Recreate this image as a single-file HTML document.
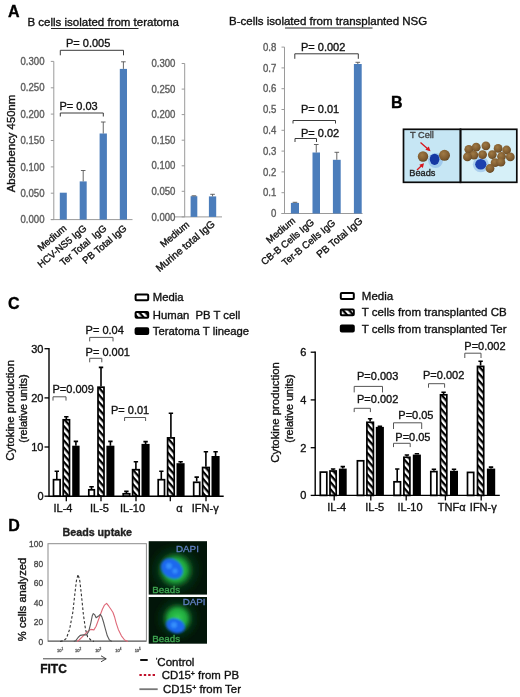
<!DOCTYPE html>
<html><head><meta charset="utf-8"><title>Figure</title>
<style>
html,body{margin:0;padding:0;background:#fff;}
svg{display:block;}
text{font-family:"Liberation Sans", Arial, sans-serif;stroke-width:0.35px;}
</style></head><body>
<svg width="520" height="697" viewBox="0 0 520 697">
<defs>
<pattern id="hatch" patternUnits="userSpaceOnUse" width="4.7" height="4.7" patternTransform="rotate(49)">
<rect width="4.7" height="4.7" fill="#fff"/><rect width="4.7" height="2.3" fill="#000"/>
</pattern>
<radialGradient id="bead" cx="40%" cy="35%" r="70%">
<stop offset="0" stop-color="#a07a45"/><stop offset="0.7" stop-color="#7d5a2e"/><stop offset="1" stop-color="#5e4323"/>
</radialGradient>
<radialGradient id="bcell" cx="50%" cy="50%" r="50%">
<stop offset="0" stop-color="#0a2f9a"/><stop offset="0.6" stop-color="#1d45ad"/><stop offset="1" stop-color="#6f9fdc" stop-opacity="0.3"/>
</radialGradient>
<radialGradient id="gglow" cx="50%" cy="50%" r="50%">
<stop offset="0" stop-color="#35d055"/><stop offset="0.55" stop-color="#1fa83c"/><stop offset="0.8" stop-color="#0d5a22" stop-opacity="0.8"/><stop offset="1" stop-color="#02200c" stop-opacity="0"/>
</radialGradient>
<radialGradient id="bnuc" cx="50%" cy="50%" r="50%">
<stop offset="0" stop-color="#2a8cff"/><stop offset="0.7" stop-color="#1a6af0"/><stop offset="1" stop-color="#1a6af0" stop-opacity="0"/>
</radialGradient>
<radialGradient id="ghaze" cx="50%" cy="50%" r="50%">
<stop offset="0" stop-color="#0f5a26" stop-opacity="0.8"/><stop offset="0.6" stop-color="#0c4a1f" stop-opacity="0.5"/><stop offset="1" stop-color="#06280f" stop-opacity="0"/>
</radialGradient>
<filter id="blur1"><feGaussianBlur stdDeviation="0.6"/></filter>
<filter id="blur2"><feGaussianBlur stdDeviation="1.2"/></filter>
</defs>
<rect width="520" height="697" fill="#fff"/>

<text x="8" y="17" font-size="16" font-weight="bold" fill="#000" stroke="#000">A</text>
<text x="391" y="107.5" font-size="16" font-weight="bold" fill="#000" stroke="#000">B</text>
<text x="8" y="309" font-size="16" font-weight="bold" fill="#000" stroke="#000">C</text>
<text x="8.3" y="531" font-size="16" font-weight="bold" fill="#000" stroke="#000">D</text>
<text x="27.5" y="25.5" font-size="11.5" fill="#111" stroke="#111">B cells isolated from teratoma</text>
<line x1="51" y1="28.5" x2="138.5" y2="28.5" stroke="#222" stroke-width="1"/>
<text x="229" y="24.5" font-size="11.5" fill="#111" stroke="#111">B-cells isolated from transplanted NSG</text>
<line x1="285" y1="28" x2="372.5" y2="28" stroke="#222" stroke-width="1"/>
<line x1="53.8" y1="61.4" x2="53.8" y2="219.6" stroke="#9a9a9a" stroke-width="1"/>
<line x1="50.8" y1="219.6" x2="132.5" y2="219.6" stroke="#9a9a9a" stroke-width="1"/>
<line x1="50.8" y1="219.6" x2="53.8" y2="219.6" stroke="#9a9a9a" stroke-width="1"/>
<text transform="translate(44.5,223.2) scale(1,1.08)" font-size="9.6" fill="#5e5e5e" text-anchor="end" stroke="#5e5e5e">0.000</text>
<line x1="50.8" y1="193.2" x2="53.8" y2="193.2" stroke="#9a9a9a" stroke-width="1"/>
<text transform="translate(44.5,196.8) scale(1,1.08)" font-size="9.6" fill="#5e5e5e" text-anchor="end" stroke="#5e5e5e">0.050</text>
<line x1="50.8" y1="166.9" x2="53.8" y2="166.9" stroke="#9a9a9a" stroke-width="1"/>
<text transform="translate(44.5,170.5) scale(1,1.08)" font-size="9.6" fill="#5e5e5e" text-anchor="end" stroke="#5e5e5e">0.100</text>
<line x1="50.8" y1="140.5" x2="53.8" y2="140.5" stroke="#9a9a9a" stroke-width="1"/>
<text transform="translate(44.5,144.1) scale(1,1.08)" font-size="9.6" fill="#5e5e5e" text-anchor="end" stroke="#5e5e5e">0.150</text>
<line x1="50.8" y1="114.1" x2="53.8" y2="114.1" stroke="#9a9a9a" stroke-width="1"/>
<text transform="translate(44.5,117.7) scale(1,1.08)" font-size="9.6" fill="#5e5e5e" text-anchor="end" stroke="#5e5e5e">0.200</text>
<line x1="50.8" y1="87.8" x2="53.8" y2="87.8" stroke="#9a9a9a" stroke-width="1"/>
<text transform="translate(44.5,91.4) scale(1,1.08)" font-size="9.6" fill="#5e5e5e" text-anchor="end" stroke="#5e5e5e">0.250</text>
<line x1="50.8" y1="61.4" x2="53.8" y2="61.4" stroke="#9a9a9a" stroke-width="1"/>
<text transform="translate(44.5,65.0) scale(1,1.08)" font-size="9.6" fill="#5e5e5e" text-anchor="end" stroke="#5e5e5e">0.300</text>
<rect x="59.8" y="192.7" width="7.0" height="26.9" fill="#4b7dbb"/>
<text transform="translate(67.3,229.4) rotate(-40)" font-size="9.7" fill="#111" text-anchor="end" xml:space="preserve" stroke="#111">Medium</text>
<rect x="79.7" y="181.4" width="7.0" height="38.2" fill="#4b7dbb"/>
<line x1="83.2" y1="181.4" x2="83.2" y2="170.5" stroke="#555" stroke-width="0.9"/>
<line x1="80.9" y1="170.5" x2="85.5" y2="170.5" stroke="#555" stroke-width="0.9"/>
<text transform="translate(87.2,229.4) rotate(-40)" font-size="9.7" fill="#111" text-anchor="end" xml:space="preserve" stroke="#111">HCV-NS5 IgG</text>
<rect x="99.6" y="133.5" width="7.3" height="86.1" fill="#4b7dbb"/>
<line x1="103.25" y1="133.5" x2="103.25" y2="122" stroke="#555" stroke-width="0.9"/>
<line x1="100.95" y1="122" x2="105.55" y2="122" stroke="#555" stroke-width="0.9"/>
<text transform="translate(107.2,229.4) rotate(-40)" font-size="9.7" fill="#111" text-anchor="end" xml:space="preserve" stroke="#111">Ter Total  IgG</text>
<rect x="119.8" y="68.9" width="7.2" height="150.7" fill="#4b7dbb"/>
<line x1="123.4" y1="68.9" x2="123.4" y2="61.8" stroke="#555" stroke-width="0.9"/>
<line x1="121.10000000000001" y1="61.8" x2="125.7" y2="61.8" stroke="#555" stroke-width="0.9"/>
<text transform="translate(127.4,229.4) rotate(-40)" font-size="9.7" fill="#111" text-anchor="end" xml:space="preserve" stroke="#111">PB Total IgG</text>
<text transform="translate(14.6,143.5) rotate(-90)" font-size="11.3" fill="#111" text-anchor="middle" stroke="#111">Absorbency 450nm</text>
<line x1="184.7" y1="63.5" x2="184.7" y2="216.9" stroke="#9a9a9a" stroke-width="1"/>
<line x1="174.4" y1="216.9" x2="222" y2="216.9" stroke="#9a9a9a" stroke-width="1"/>
<line x1="181.7" y1="216.9" x2="184.7" y2="216.9" stroke="#9a9a9a" stroke-width="1"/>
<text transform="translate(175.4,220.5) scale(1,1.08)" font-size="9.6" fill="#5e5e5e" text-anchor="end" stroke="#5e5e5e">0.000</text>
<line x1="181.7" y1="191.3" x2="184.7" y2="191.3" stroke="#9a9a9a" stroke-width="1"/>
<text transform="translate(175.4,194.9) scale(1,1.08)" font-size="9.6" fill="#5e5e5e" text-anchor="end" stroke="#5e5e5e">0.050</text>
<line x1="181.7" y1="165.8" x2="184.7" y2="165.8" stroke="#9a9a9a" stroke-width="1"/>
<text transform="translate(175.4,169.4) scale(1,1.08)" font-size="9.6" fill="#5e5e5e" text-anchor="end" stroke="#5e5e5e">0.100</text>
<line x1="181.7" y1="140.2" x2="184.7" y2="140.2" stroke="#9a9a9a" stroke-width="1"/>
<text transform="translate(175.4,143.8) scale(1,1.08)" font-size="9.6" fill="#5e5e5e" text-anchor="end" stroke="#5e5e5e">0.150</text>
<line x1="181.7" y1="114.6" x2="184.7" y2="114.6" stroke="#9a9a9a" stroke-width="1"/>
<text transform="translate(175.4,118.2) scale(1,1.08)" font-size="9.6" fill="#5e5e5e" text-anchor="end" stroke="#5e5e5e">0.200</text>
<line x1="181.7" y1="89.1" x2="184.7" y2="89.1" stroke="#9a9a9a" stroke-width="1"/>
<text transform="translate(175.4,92.7) scale(1,1.08)" font-size="9.6" fill="#5e5e5e" text-anchor="end" stroke="#5e5e5e">0.250</text>
<line x1="181.7" y1="63.5" x2="184.7" y2="63.5" stroke="#9a9a9a" stroke-width="1"/>
<text transform="translate(175.4,67.1) scale(1,1.08)" font-size="9.6" fill="#5e5e5e" text-anchor="end" stroke="#5e5e5e">0.300</text>
<rect x="190.6" y="196.2" width="6.7" height="20.7" fill="#4b7dbb"/>
<line x1="193.95" y1="196.2" x2="193.95" y2="195.8" stroke="#555" stroke-width="0.9"/>
<line x1="191.64999999999998" y1="195.8" x2="196.25" y2="195.8" stroke="#555" stroke-width="0.9"/>
<text transform="translate(189.9,225.7) rotate(-40)" font-size="9.7" fill="#111" text-anchor="end" xml:space="preserve" stroke="#111">Medium</text>
<rect x="208.9" y="196.4" width="7.3" height="20.5" fill="#4b7dbb"/>
<line x1="212.55" y1="196.4" x2="212.55" y2="194.3" stroke="#555" stroke-width="0.9"/>
<line x1="210.25" y1="194.3" x2="214.85000000000002" y2="194.3" stroke="#555" stroke-width="0.9"/>
<text transform="translate(215.6,225.2) rotate(-40)" font-size="10.3" fill="#111" text-anchor="end" xml:space="preserve" stroke="#111">Murine total IgG</text>
<line x1="284.5" y1="47.1" x2="284.5" y2="213.5" stroke="#9a9a9a" stroke-width="1"/>
<line x1="281.5" y1="213.5" x2="362.5" y2="213.5" stroke="#9a9a9a" stroke-width="1"/>
<line x1="281.5" y1="213.5" x2="284.5" y2="213.5" stroke="#9a9a9a" stroke-width="1"/>
<text transform="translate(276.3,217.1) scale(1,1.08)" font-size="9.6" fill="#5e5e5e" text-anchor="end" stroke="#5e5e5e">0</text>
<line x1="281.5" y1="192.7" x2="284.5" y2="192.7" stroke="#9a9a9a" stroke-width="1"/>
<text transform="translate(276.3,196.3) scale(1,1.08)" font-size="9.6" fill="#5e5e5e" text-anchor="end" stroke="#5e5e5e">0.1</text>
<line x1="281.5" y1="171.9" x2="284.5" y2="171.9" stroke="#9a9a9a" stroke-width="1"/>
<text transform="translate(276.3,175.5) scale(1,1.08)" font-size="9.6" fill="#5e5e5e" text-anchor="end" stroke="#5e5e5e">0.2</text>
<line x1="281.5" y1="151.1" x2="284.5" y2="151.1" stroke="#9a9a9a" stroke-width="1"/>
<text transform="translate(276.3,154.7) scale(1,1.08)" font-size="9.6" fill="#5e5e5e" text-anchor="end" stroke="#5e5e5e">0.3</text>
<line x1="281.5" y1="130.3" x2="284.5" y2="130.3" stroke="#9a9a9a" stroke-width="1"/>
<text transform="translate(276.3,133.9) scale(1,1.08)" font-size="9.6" fill="#5e5e5e" text-anchor="end" stroke="#5e5e5e">0.4</text>
<line x1="281.5" y1="109.5" x2="284.5" y2="109.5" stroke="#9a9a9a" stroke-width="1"/>
<text transform="translate(276.3,113.1) scale(1,1.08)" font-size="9.6" fill="#5e5e5e" text-anchor="end" stroke="#5e5e5e">0.5</text>
<line x1="281.5" y1="88.7" x2="284.5" y2="88.7" stroke="#9a9a9a" stroke-width="1"/>
<text transform="translate(276.3,92.3) scale(1,1.08)" font-size="9.6" fill="#5e5e5e" text-anchor="end" stroke="#5e5e5e">0.6</text>
<line x1="281.5" y1="67.9" x2="284.5" y2="67.9" stroke="#9a9a9a" stroke-width="1"/>
<text transform="translate(276.3,71.5) scale(1,1.08)" font-size="9.6" fill="#5e5e5e" text-anchor="end" stroke="#5e5e5e">0.7</text>
<line x1="281.5" y1="47.1" x2="284.5" y2="47.1" stroke="#9a9a9a" stroke-width="1"/>
<text transform="translate(276.3,50.7) scale(1,1.08)" font-size="9.6" fill="#5e5e5e" text-anchor="end" stroke="#5e5e5e">0.8</text>
<rect x="290.9" y="202.9" width="8.1" height="10.6" fill="#4b7dbb"/>
<line x1="294.95" y1="202.9" x2="294.95" y2="202.3" stroke="#555" stroke-width="0.9"/>
<line x1="292.65" y1="202.3" x2="297.25" y2="202.3" stroke="#555" stroke-width="0.9"/>
<text transform="translate(295.9,221.8) rotate(-40)" font-size="9.7" fill="#111" text-anchor="end" xml:space="preserve" stroke="#111">Medium</text>
<rect x="312.5" y="152.5" width="7.5" height="61.0" fill="#4b7dbb"/>
<line x1="316.25" y1="152.5" x2="316.25" y2="144.5" stroke="#555" stroke-width="0.9"/>
<line x1="313.95" y1="144.5" x2="318.55" y2="144.5" stroke="#555" stroke-width="0.9"/>
<text transform="translate(314.8,223.3) rotate(-40)" font-size="9.7" fill="#111" text-anchor="end" xml:space="preserve" stroke="#111">CB-B Cells IgG</text>
<rect x="332.9" y="159.8" width="7.8" height="53.7" fill="#4b7dbb"/>
<line x1="336.79999999999995" y1="159.8" x2="336.79999999999995" y2="152.3" stroke="#555" stroke-width="0.9"/>
<line x1="334.49999999999994" y1="152.3" x2="339.09999999999997" y2="152.3" stroke="#555" stroke-width="0.9"/>
<text transform="translate(336.2,223.8) rotate(-40)" font-size="9.8" fill="#111" text-anchor="end" xml:space="preserve" stroke="#111">Ter-B Cells IgG</text>
<rect x="353.9" y="64" width="7.8" height="149.5" fill="#4b7dbb"/>
<line x1="357.79999999999995" y1="64" x2="357.79999999999995" y2="62.3" stroke="#555" stroke-width="0.9"/>
<line x1="355.49999999999994" y1="62.3" x2="360.09999999999997" y2="62.3" stroke="#555" stroke-width="0.9"/>
<text transform="translate(363.3,222.0) rotate(-40)" font-size="10.1" fill="#111" text-anchor="end" xml:space="preserve" stroke="#111">PB Total IgG</text>
<text x="66" y="47" font-size="11" fill="#111" xml:space="preserve" stroke="#111">P= 0.005</text>
<path d="M60.3 55.3 V50.3 H123.5 V55.3" fill="none" stroke="#3a3a3a" stroke-width="1"/>
<text x="59.5" y="110" font-size="11" fill="#111" xml:space="preserve" stroke="#111">P= 0.03</text>
<path d="M60.3 116.5 V113 H103.3 V116.5" fill="none" stroke="#3a3a3a" stroke-width="1"/>
<text x="301" y="50.5" font-size="11" fill="#111" xml:space="preserve" stroke="#111">P= 0.002</text>
<path d="M294.8 58.8 V53.8 H358.3 V58.8" fill="none" stroke="#3a3a3a" stroke-width="1"/>
<text x="301" y="113" font-size="11" fill="#111" xml:space="preserve" stroke="#111">P= 0.01</text>
<path d="M293 123.5 V120.5 H335.5 V123.5" fill="none" stroke="#3a3a3a" stroke-width="1"/>
<text x="301" y="137" font-size="11" fill="#111" xml:space="preserve" stroke="#111">P= 0.02</text>
<path d="M295 142.0 V138.5 H316.5 V142.0" fill="none" stroke="#3a3a3a" stroke-width="1"/>
<rect x="403.5" y="129.3" width="57" height="53" fill="#c6e6f4"/>
<rect x="460.5" y="129.3" width="56.3" height="53" fill="#d6f0f8"/>
<g filter="url(#blur1)">
<circle cx="435.5" cy="160.5" r="7.5" fill="#7fb0e6" opacity="0.55"/>
<circle cx="423" cy="156.5" r="5.2" fill="url(#bead)"/>
<circle cx="444.5" cy="155.3" r="5.5" fill="url(#bead)"/>
<ellipse cx="434.6" cy="159.3" rx="4.8" ry="5.6" fill="#1637a3"/>
</g>
<text x="410" y="138.3" font-size="9.2" fill="#444" stroke="#444">T Cell</text>
<text x="409.3" y="176.3" font-size="9.2" fill="#222" stroke="#222">Beads</text>
<path d="M420.5 142.5 L429 150" stroke="#d8141c" stroke-width="1.3" fill="none"/><path d="M430.5 151.3 L425.3 149.8 L428.8 146.5 Z" fill="#d8141c"/>
<path d="M417 170 L422 165.3" stroke="#d8141c" stroke-width="1.3" fill="none"/><path d="M424 163.3 L422.8 168 L419.3 164.8 Z" fill="#d8141c"/>
<g filter="url(#blur1)">
<circle cx="480.8" cy="164.3" r="8" fill="#7fb0e6" opacity="0.5"/>
<ellipse cx="480.8" cy="164.3" rx="5.6" ry="5.2" fill="#1a3fae"/>
<circle cx="468.8" cy="149.3" r="4.4" fill="url(#bead)"/>
<circle cx="476.2" cy="147.2" r="4.4" fill="url(#bead)"/>
<circle cx="485.9" cy="145.8" r="4.4" fill="url(#bead)"/>
<circle cx="498.1" cy="148.4" r="4.4" fill="url(#bead)"/>
<circle cx="506.6" cy="150.0" r="4.4" fill="url(#bead)"/>
<circle cx="510.3" cy="156.9" r="4.4" fill="url(#bead)"/>
<circle cx="501.5" cy="156.5" r="4.4" fill="url(#bead)"/>
<circle cx="492.3" cy="154.6" r="4.4" fill="url(#bead)"/>
<circle cx="482.6" cy="154.6" r="4.4" fill="url(#bead)"/>
<circle cx="473.9" cy="155.1" r="4.4" fill="url(#bead)"/>
<circle cx="467.4" cy="156.9" r="4.4" fill="url(#bead)"/>
<circle cx="495.1" cy="162.7" r="4.4" fill="url(#bead)"/>
<circle cx="490.0" cy="168.5" r="4.4" fill="url(#bead)"/>
<circle cx="500.9" cy="162.2" r="4.4" fill="url(#bead)"/>
</g>
<rect x="403.5" y="129.3" width="57" height="53" fill="none" stroke="#0a0a0a" stroke-width="1.7"/>
<rect x="460.5" y="129.3" width="56.3" height="53" fill="none" stroke="#0a0a0a" stroke-width="1.7"/>
<path d="M56.8 478.9 V470.8 M54.6 471.2 H59.0" stroke="#000" stroke-width="1.6" fill="none"/>
<rect x="53.5" y="479.7" width="6.6" height="16.5" fill="#fff" stroke="#000" stroke-width="1.7"/>
<path d="M66.3 419 V416.4 M64.1 416.79999999999995 H68.5" stroke="#000" stroke-width="1.6" fill="none"/>
<rect x="63.2" y="419.8" width="6.3" height="76.4" fill="url(#hatch)" stroke="#000" stroke-width="1.7"/>
<path d="M75.9 445.7 V441 M73.7 441.4 H78.1" stroke="#000" stroke-width="1.6" fill="none"/>
<rect x="72.2" y="445.7" width="7.4" height="50.5" fill="#000"/>
<line x1="66.3" y1="496.2" x2="66.3" y2="501.2" stroke="#000" stroke-width="1.3"/>
<text x="63" y="511.5" font-size="11" fill="#111" text-anchor="middle" stroke="#111">IL-4</text>
<path d="M91.5 489 V486.4 M89.3 486.79999999999995 H93.8" stroke="#000" stroke-width="1.6" fill="none"/>
<rect x="88.8" y="489.8" width="5.5" height="6.4" fill="#fff" stroke="#000" stroke-width="1.7"/>
<path d="M101.0 386.4 V367 M98.8 367.4 H103.2" stroke="#000" stroke-width="1.6" fill="none"/>
<rect x="98.0" y="387.2" width="6.0" height="109.0" fill="url(#hatch)" stroke="#000" stroke-width="1.7"/>
<path d="M110.4 445.7 V441 M108.2 441.4 H112.6" stroke="#000" stroke-width="1.6" fill="none"/>
<rect x="106.4" y="445.7" width="8.0" height="50.5" fill="#000"/>
<line x1="101" y1="496.2" x2="101" y2="501.2" stroke="#000" stroke-width="1.3"/>
<text x="99.5" y="511.5" font-size="11" fill="#111" text-anchor="middle" stroke="#111">IL-5</text>
<path d="M126.4 493 V491 M124.2 491.4 H128.6" stroke="#000" stroke-width="1.6" fill="none"/>
<rect x="123.2" y="493.8" width="6.5" height="2.4" fill="#fff" stroke="#000" stroke-width="1.7"/>
<path d="M135.9 468.9 V461.4 M133.7 461.79999999999995 H138.1" stroke="#000" stroke-width="1.6" fill="none"/>
<rect x="132.6" y="469.7" width="6.6" height="26.5" fill="url(#hatch)" stroke="#000" stroke-width="1.7"/>
<path d="M145.6 443.9 V441.2 M143.4 441.59999999999997 H147.8" stroke="#000" stroke-width="1.6" fill="none"/>
<rect x="141.5" y="443.9" width="8.1" height="52.3" fill="#000"/>
<line x1="136" y1="496.2" x2="136" y2="501.2" stroke="#000" stroke-width="1.3"/>
<text x="132.5" y="511.5" font-size="11" fill="#111" text-anchor="middle" stroke="#111">IL-10</text>
<path d="M161.3 478.9 V470.8 M159.2 471.2 H163.5" stroke="#000" stroke-width="1.6" fill="none"/>
<rect x="158.2" y="479.7" width="6.3" height="16.5" fill="#fff" stroke="#000" stroke-width="1.7"/>
<path d="M170.9 437.1 V412.9 M168.7 413.29999999999995 H173.1" stroke="#000" stroke-width="1.6" fill="none"/>
<rect x="167.6" y="437.9" width="6.6" height="58.3" fill="url(#hatch)" stroke="#000" stroke-width="1.7"/>
<path d="M180.6 463.2 V461.4 M178.4 461.79999999999995 H182.8" stroke="#000" stroke-width="1.6" fill="none"/>
<rect x="176.5" y="463.2" width="8.1" height="33.0" fill="#000"/>
<line x1="170.3" y1="496.2" x2="170.3" y2="501.2" stroke="#000" stroke-width="1.3"/>
<text x="179.5" y="511.5" font-size="11" fill="#111" text-anchor="middle" stroke="#111">α</text>
<path d="M196.7 481.5 V476.7 M194.5 477.09999999999997 H198.9" stroke="#000" stroke-width="1.6" fill="none"/>
<rect x="193.7" y="482.3" width="6.0" height="13.9" fill="#fff" stroke="#000" stroke-width="1.7"/>
<path d="M205.9 466.7 V451.4 M203.7 451.79999999999995 H208.1" stroke="#000" stroke-width="1.6" fill="none"/>
<rect x="202.6" y="467.5" width="6.6" height="28.7" fill="url(#hatch)" stroke="#000" stroke-width="1.7"/>
<path d="M215.6 456 V451.4 M213.4 451.79999999999995 H217.8" stroke="#000" stroke-width="1.6" fill="none"/>
<rect x="211.5" y="456" width="8.1" height="40.2" fill="#000"/>
<line x1="206" y1="496.2" x2="206" y2="501.2" stroke="#000" stroke-width="1.3"/>
<text x="205.2" y="511.5" font-size="11" fill="#111" text-anchor="middle" stroke="#111">IFN-γ</text>
<path d="M49 348.09999999999997 V496.2 H223.7" stroke="#000" stroke-width="1.4" fill="none"/>
<line x1="44.5" y1="496.2" x2="49" y2="496.2" stroke="#000" stroke-width="1.3"/>
<text x="43.5" y="500.2" font-size="11" fill="#111" text-anchor="end" stroke="#111">0</text>
<line x1="44.5" y1="447.0" x2="49" y2="447.0" stroke="#000" stroke-width="1.3"/>
<text x="43.5" y="451.0" font-size="11" fill="#111" text-anchor="end" stroke="#111">10</text>
<line x1="44.5" y1="397.9" x2="49" y2="397.9" stroke="#000" stroke-width="1.3"/>
<text x="43.5" y="401.9" font-size="11" fill="#111" text-anchor="end" stroke="#111">20</text>
<line x1="44.5" y1="348.7" x2="49" y2="348.7" stroke="#000" stroke-width="1.3"/>
<text x="43.5" y="352.7" font-size="11" fill="#111" text-anchor="end" stroke="#111">30</text>
<text transform="translate(13.6,410.3) rotate(-90)" font-size="11.4" fill="#111" text-anchor="middle" stroke="#111">Cytokine production</text>
<text transform="translate(27.2,408.5) rotate(-90)" font-size="10.9" fill="#111" text-anchor="middle" stroke="#111">(relative units)</text>
<rect x="320.3" y="472.1" width="6.5" height="23.3" fill="#fff" stroke="#000" stroke-width="1.7"/>
<path d="M333.1 470.2 V468.6 M330.9 469.0 H335.3" stroke="#000" stroke-width="1.6" fill="none"/>
<rect x="330.0" y="471.0" width="6.2" height="24.4" fill="url(#hatch)" stroke="#000" stroke-width="1.7"/>
<path d="M342.8 468.6 V466.2 M340.6 466.59999999999997 H345.0" stroke="#000" stroke-width="1.6" fill="none"/>
<rect x="338.9" y="468.6" width="7.8" height="26.8" fill="#000"/>
<line x1="334.2" y1="495.4" x2="334.2" y2="500.4" stroke="#000" stroke-width="1.3"/>
<text x="336.7" y="510.7" font-size="11" fill="#111" text-anchor="middle" stroke="#111">IL-4</text>
<rect x="357.4" y="460.8" width="6.3" height="34.6" fill="#fff" stroke="#000" stroke-width="1.7"/>
<path d="M370.1 421.5 V418.3 M367.9 418.7 H372.3" stroke="#000" stroke-width="1.6" fill="none"/>
<rect x="366.9" y="422.3" width="6.5" height="73.1" fill="url(#hatch)" stroke="#000" stroke-width="1.7"/>
<path d="M379.9 426.9 V425.8 M377.7 426.2 H382.1" stroke="#000" stroke-width="1.6" fill="none"/>
<rect x="375.8" y="426.9" width="8.1" height="68.5" fill="#000"/>
<line x1="370.8" y1="495.4" x2="370.8" y2="500.4" stroke="#000" stroke-width="1.3"/>
<text x="374.7" y="510.7" font-size="11" fill="#111" text-anchor="middle" stroke="#111">IL-5</text>
<path d="M397.2 481 V468.6 M395.1 469.0 H399.4" stroke="#000" stroke-width="1.6" fill="none"/>
<rect x="394.0" y="481.8" width="6.5" height="13.6" fill="#fff" stroke="#000" stroke-width="1.7"/>
<path d="M406.9 456.5 V454.6 M404.7 455.0 H409.1" stroke="#000" stroke-width="1.6" fill="none"/>
<rect x="403.9" y="457.3" width="6.0" height="38.1" fill="url(#hatch)" stroke="#000" stroke-width="1.7"/>
<path d="M416.9 454.6 V453.3 M414.7 453.7 H419.1" stroke="#000" stroke-width="1.6" fill="none"/>
<rect x="412.8" y="454.6" width="8.1" height="40.8" fill="#000"/>
<line x1="406.2" y1="495.4" x2="406.2" y2="500.4" stroke="#000" stroke-width="1.3"/>
<text x="410" y="510.7" font-size="11" fill="#111" text-anchor="middle" stroke="#111">IL-10</text>
<path d="M433.9 470.8 V468.9 M431.7 469.29999999999995 H436.1" stroke="#000" stroke-width="1.6" fill="none"/>
<rect x="430.8" y="471.6" width="6.1" height="23.8" fill="#fff" stroke="#000" stroke-width="1.7"/>
<path d="M443.6 394 V391.9 M441.4 392.29999999999995 H445.8" stroke="#000" stroke-width="1.6" fill="none"/>
<rect x="440.5" y="394.8" width="6.3" height="100.6" fill="url(#hatch)" stroke="#000" stroke-width="1.7"/>
<path d="M454.0 470.8 V468.9 M451.8 469.29999999999995 H456.2" stroke="#000" stroke-width="1.6" fill="none"/>
<rect x="450.0" y="470.8" width="8.0" height="24.6" fill="#000"/>
<line x1="445.4" y1="495.4" x2="445.4" y2="500.4" stroke="#000" stroke-width="1.3"/>
<text x="451.7" y="510.7" font-size="11" fill="#111" text-anchor="middle" stroke="#111">TNFα</text>
<rect x="467.5" y="472.4" width="6.2" height="23.0" fill="#fff" stroke="#000" stroke-width="1.7"/>
<path d="M480.6 365.6 V360.8 M478.4 361.2 H482.8" stroke="#000" stroke-width="1.6" fill="none"/>
<rect x="477.5" y="366.4" width="6.2" height="129.0" fill="url(#hatch)" stroke="#000" stroke-width="1.7"/>
<path d="M491.0 468.6 V466.7 M488.8 467.09999999999997 H493.2" stroke="#000" stroke-width="1.6" fill="none"/>
<rect x="486.9" y="468.6" width="8.3" height="26.8" fill="#000"/>
<line x1="481.2" y1="495.4" x2="481.2" y2="500.4" stroke="#000" stroke-width="1.3"/>
<text x="483.3" y="510.7" font-size="11" fill="#111" text-anchor="middle" stroke="#111">IFN-γ</text>
<path d="M315.2 351.59999999999997 V495.4 H499.8" stroke="#000" stroke-width="1.4" fill="none"/>
<line x1="310.7" y1="495.4" x2="315.2" y2="495.4" stroke="#000" stroke-width="1.3"/>
<text x="306.3" y="499.4" font-size="11" fill="#111" text-anchor="end" stroke="#111">0</text>
<line x1="310.7" y1="447.7" x2="315.2" y2="447.7" stroke="#000" stroke-width="1.3"/>
<text x="306.3" y="451.7" font-size="11" fill="#111" text-anchor="end" stroke="#111">2</text>
<line x1="310.7" y1="399.9" x2="315.2" y2="399.9" stroke="#000" stroke-width="1.3"/>
<text x="306.3" y="403.9" font-size="11" fill="#111" text-anchor="end" stroke="#111">4</text>
<line x1="310.7" y1="352.2" x2="315.2" y2="352.2" stroke="#000" stroke-width="1.3"/>
<text x="306.3" y="356.2" font-size="11" fill="#111" text-anchor="end" stroke="#111">6</text>
<text transform="translate(278.8,412.4) rotate(-90)" font-size="11.4" fill="#111" text-anchor="middle" stroke="#111">Cytokine production</text>
<text transform="translate(292.8,408.5) rotate(-90)" font-size="10.9" fill="#111" text-anchor="middle" stroke="#111">(relative units)</text>
<rect x="135.6" y="294.40000000000003" width="12.6" height="5.8" rx="1" fill="#fff" stroke="#000" stroke-width="2"/>
<text x="152.8" y="301.3" font-size="11.3" fill="#111" xml:space="preserve" stroke="#111">Media</text>
<rect x="135.6" y="311.90000000000003" width="12.6" height="5.8" rx="1" fill="url(#hatch)" stroke="#000" stroke-width="2"/>
<text x="152.8" y="318.8" font-size="11.3" fill="#111" xml:space="preserve" stroke="#111">Human  PB T cell</text>
<rect x="135.6" y="328.3" width="12.6" height="5.8" rx="1" fill="#000" stroke="#000" stroke-width="2"/>
<text x="152.8" y="335.2" font-size="11.3" fill="#111" xml:space="preserve" stroke="#111">Teratoma T lineage</text>
<rect x="340.8" y="293.1" width="13" height="5.8" rx="1" fill="#fff" stroke="#000" stroke-width="2"/>
<text x="361.8" y="300" font-size="11.5" fill="#111" xml:space="preserve" stroke="#111">Media</text>
<rect x="340.8" y="309.40000000000003" width="13" height="5.8" rx="1" fill="url(#hatch)" stroke="#000" stroke-width="2"/>
<text x="361.8" y="316.3" font-size="11.5" fill="#111" xml:space="preserve" stroke="#111">T cells from transplanted CB</text>
<rect x="340.8" y="325.6" width="13" height="5.8" rx="1" fill="#000" stroke="#000" stroke-width="2"/>
<text x="361.8" y="332.5" font-size="11.5" fill="#111" xml:space="preserve" stroke="#111">T cells from transplanted Ter</text>
<text x="52.5" y="393.3" font-size="11" fill="#111" xml:space="preserve" stroke="#111">P=0.009</text>
<path d="M53 400.6 V396.8 H66 V400.6" fill="none" stroke="#555" stroke-width="1"/>
<text x="85.6" y="334" font-size="11" fill="#111" xml:space="preserve" stroke="#111">P= 0.04</text>
<path d="M89.7 341.4 V337.4 H113 V341.4" fill="none" stroke="#555" stroke-width="1"/>
<text x="85.6" y="356.2" font-size="11" fill="#111" xml:space="preserve" stroke="#111">P= 0.001</text>
<path d="M89.7 362.3 V358.3 H101.8 V362.3" fill="none" stroke="#555" stroke-width="1"/>
<text x="111" y="414.3" font-size="11" fill="#111" xml:space="preserve" stroke="#111">P= 0.01</text>
<path d="M124.6 421.0 V417.5 H145.6 V421.0" fill="none" stroke="#555" stroke-width="1"/>
<text x="357" y="380.3" font-size="11" fill="#111" xml:space="preserve" stroke="#111">P=0.003</text>
<path d="M354.2 392.4 V386.4 H382.5 V392.4" fill="none" stroke="#555" stroke-width="1"/>
<text x="357" y="402.7" font-size="11" fill="#111" xml:space="preserve" stroke="#111">P=0.002</text>
<path d="M354.2 412.1 V408.3 H370.4 V412.1" fill="none" stroke="#555" stroke-width="1"/>
<text x="398.3" y="418.5" font-size="11" fill="#111" xml:space="preserve" stroke="#111">P=0.05</text>
<path d="M393.5 429.0 V422.8 H421.7 V429.0" fill="none" stroke="#555" stroke-width="1"/>
<text x="395.3" y="440.5" font-size="11" fill="#111" xml:space="preserve" stroke="#111">P=0.05</text>
<path d="M393.5 447.1 V443.3 H410.2 V447.1" fill="none" stroke="#555" stroke-width="1"/>
<text x="423" y="379" font-size="11" fill="#111" xml:space="preserve" stroke="#111">P=0.002</text>
<path d="M428.5 387.7 V383.7 H444.6 V387.7" fill="none" stroke="#555" stroke-width="1"/>
<text x="464.3" y="350.2" font-size="11" fill="#111" xml:space="preserve" stroke="#111">P=0.002</text>
<path d="M464.8 358.0 V353.2 H481 V358.0" fill="none" stroke="#555" stroke-width="1"/>
<text x="97.3" y="536" font-size="10.7" font-weight="bold" fill="#222" text-anchor="middle" stroke="#222">Beads uptake</text>
<rect x="48" y="543.7" width="98.4" height="97.6" fill="#fff" stroke="#8c8c8c" stroke-width="1"/>
<text transform="translate(43.2,644.8) scale(0.88,1)" font-size="9.6" fill="#4a4a4a" text-anchor="end" stroke="#4a4a4a">0</text>
<text transform="translate(43.2,625.3) scale(0.88,1)" font-size="9.6" fill="#4a4a4a" text-anchor="end" stroke="#4a4a4a">20</text>
<text transform="translate(43.2,605.8) scale(0.88,1)" font-size="9.6" fill="#4a4a4a" text-anchor="end" stroke="#4a4a4a">40</text>
<text transform="translate(43.2,586.2) scale(0.88,1)" font-size="9.6" fill="#4a4a4a" text-anchor="end" stroke="#4a4a4a">60</text>
<text transform="translate(43.2,566.7) scale(0.88,1)" font-size="9.6" fill="#4a4a4a" text-anchor="end" stroke="#4a4a4a">80</text>
<text transform="translate(43.2,547.2) scale(0.88,1)" font-size="9.6" fill="#4a4a4a" text-anchor="end" stroke="#4a4a4a">100</text>
<text transform="translate(25.5,599.5) rotate(-90)" font-size="11.2" fill="#111" text-anchor="middle" stroke="#111">% cells analyzed</text>
<line x1="48" y1="641" x2="146" y2="641" stroke="#444" stroke-width="0.8"/>
<polyline points="60.1,641.5 63.7,640.6 66.4,638.3 69.6,629.4 72.8,612.5 74.9,593.5 76.4,580.8 78.1,574.4 79.8,580.8 81.5,595.6 83.4,614.6 85.5,629.4 87.6,636.8 90.8,640.0 93.9,641.5" fill="none" stroke="#333" stroke-width="1.1" stroke-dasharray="2.6 2" stroke-linejoin="round"/>
<polyline points="77.0,641.5 79.1,640.0 82.3,636.8 85.5,633.7 88.2,631.1 90.8,629.4 93.9,629.9 96.1,626.3 99.2,617.8 102.4,609.3 104.5,605.1 106.6,603.4 108.8,606.2 110.9,609.3 113.0,612.5 114.5,616.7 116.2,623.1 118.3,629.4 121.4,635.8 124.6,640.0 127.8,641.5" fill="none" stroke="#df6878" stroke-width="1.1" stroke-linejoin="round"/>
<polyline points="73.8,641.5 76.0,640.4 78.1,637.5 80.2,635.4 83.4,634.9 86.5,634.9 88.7,631.5 90.8,623.1 92.3,615.7 93.3,613.6 94.6,614.6 96.1,617.8 98.2,616.3 100.3,614.4 101.8,616.7 103.5,622.0 105.2,628.4 107.3,635.8 109.4,640.0 111.9,641.5" fill="none" stroke="#5a5a5a" stroke-width="1.1" stroke-linejoin="round"/>
<text x="60.1" y="651.6" font-size="4" fill="#666" text-anchor="middle" stroke="#666">10<tspan dy="-1.5" font-size="3">1</tspan></text>
<text x="78.1" y="651.6" font-size="4" fill="#666" text-anchor="middle" stroke="#666">10<tspan dy="-1.5" font-size="3">2</tspan></text>
<text x="98.2" y="651.6" font-size="4" fill="#666" text-anchor="middle" stroke="#666">10<tspan dy="-1.5" font-size="3">3</tspan></text>
<text x="118.3" y="651.6" font-size="4" fill="#666" text-anchor="middle" stroke="#666">10<tspan dy="-1.5" font-size="3">4</tspan></text>
<text x="137.7" y="651.6" font-size="4" fill="#666" text-anchor="middle" stroke="#666">10<tspan dy="-1.5" font-size="3">5</tspan></text>
<path d="M43 658.8 H106.2 M101 655.8 L106.2 658.8 L101 661.8" fill="none" stroke="#333" stroke-width="0.9"/>
<text x="40.2" y="672.6" font-size="12" font-weight="bold" fill="#111" stroke="#111">FITC</text>
<rect x="148.7" y="541.2" width="58.3" height="53.4" fill="#021509"/>
<clipPath id="cp541"><rect x="148.7" y="541.2" width="58.3" height="53.4"/></clipPath>
<g clip-path="url(#cp541)"><g filter="url(#blur2)">
<circle cx="175.5" cy="570" r="29.2" fill="url(#ghaze)"/>
<circle cx="175.5" cy="570" r="19.5" fill="url(#gglow)"/>
<ellipse cx="172" cy="568.8" rx="11.5" ry="9.2" fill="#1b68ee" transform="rotate(35 172 568.8)"/>
<circle cx="169" cy="566" r="3" fill="#3f9cff" opacity="0.75"/>
<circle cx="175" cy="571" r="2.5" fill="#3f9cff" opacity="0.75"/>
</g></g>
<text x="176" y="552" font-size="9.8" fill="#5f7fc0" stroke="#5f7fc0">DAPI</text>
<text x="152.3" y="592.8" font-size="9.8" fill="#3fa552" stroke="#3fa552">Beads</text>
<rect x="148.7" y="597" width="58.3" height="46.7" fill="#021509"/>
<clipPath id="cp597"><rect x="148.7" y="597" width="58.3" height="46.7"/></clipPath>
<g clip-path="url(#cp597)"><g filter="url(#blur2)">
<circle cx="177.5" cy="618.5" r="24.8" fill="url(#ghaze)"/>
<circle cx="177.5" cy="618.5" r="16.5" fill="url(#gglow)"/>
<ellipse cx="175.5" cy="625.6" rx="9.5" ry="7" fill="#1b68ee" transform="rotate(20 175.5 625.6)"/>
<circle cx="174" cy="625" r="3" fill="#3f9cff" opacity="0.75"/>
</g></g>
<text x="182.7" y="604.7" font-size="9.8" fill="#5f7fc0" stroke="#5f7fc0">DAPI</text>
<text x="152.3" y="642.3" font-size="9.8" fill="#3fa552" stroke="#3fa552">Beads</text>
<line x1="140.2" y1="660" x2="147.7" y2="660" stroke="#111" stroke-width="2"/>
<text x="156" y="665.8" font-size="11.5" fill="#111" stroke="#111"><tspan font-size="7" dy="-3">'</tspan><tspan dy="3">Control</tspan></text>
<line x1="139.4" y1="675" x2="155.5" y2="675" stroke="#c0102a" stroke-width="1.8" stroke-dasharray="2.4 2"/>
<text x="161.7" y="679.3" font-size="11.4" fill="#111" stroke="#111">CD15<tspan font-size="7" dy="-3.5">+</tspan><tspan dy="3.5"> from PB</tspan></text>
<line x1="139.4" y1="689.2" x2="157.7" y2="689.2" stroke="#777" stroke-width="1.8"/>
<text x="163" y="693.3" font-size="11.4" fill="#111" stroke="#111">CD15<tspan font-size="7" dy="-3.5">+</tspan><tspan dy="3.5"> from Ter</tspan></text>
</svg></body></html>
